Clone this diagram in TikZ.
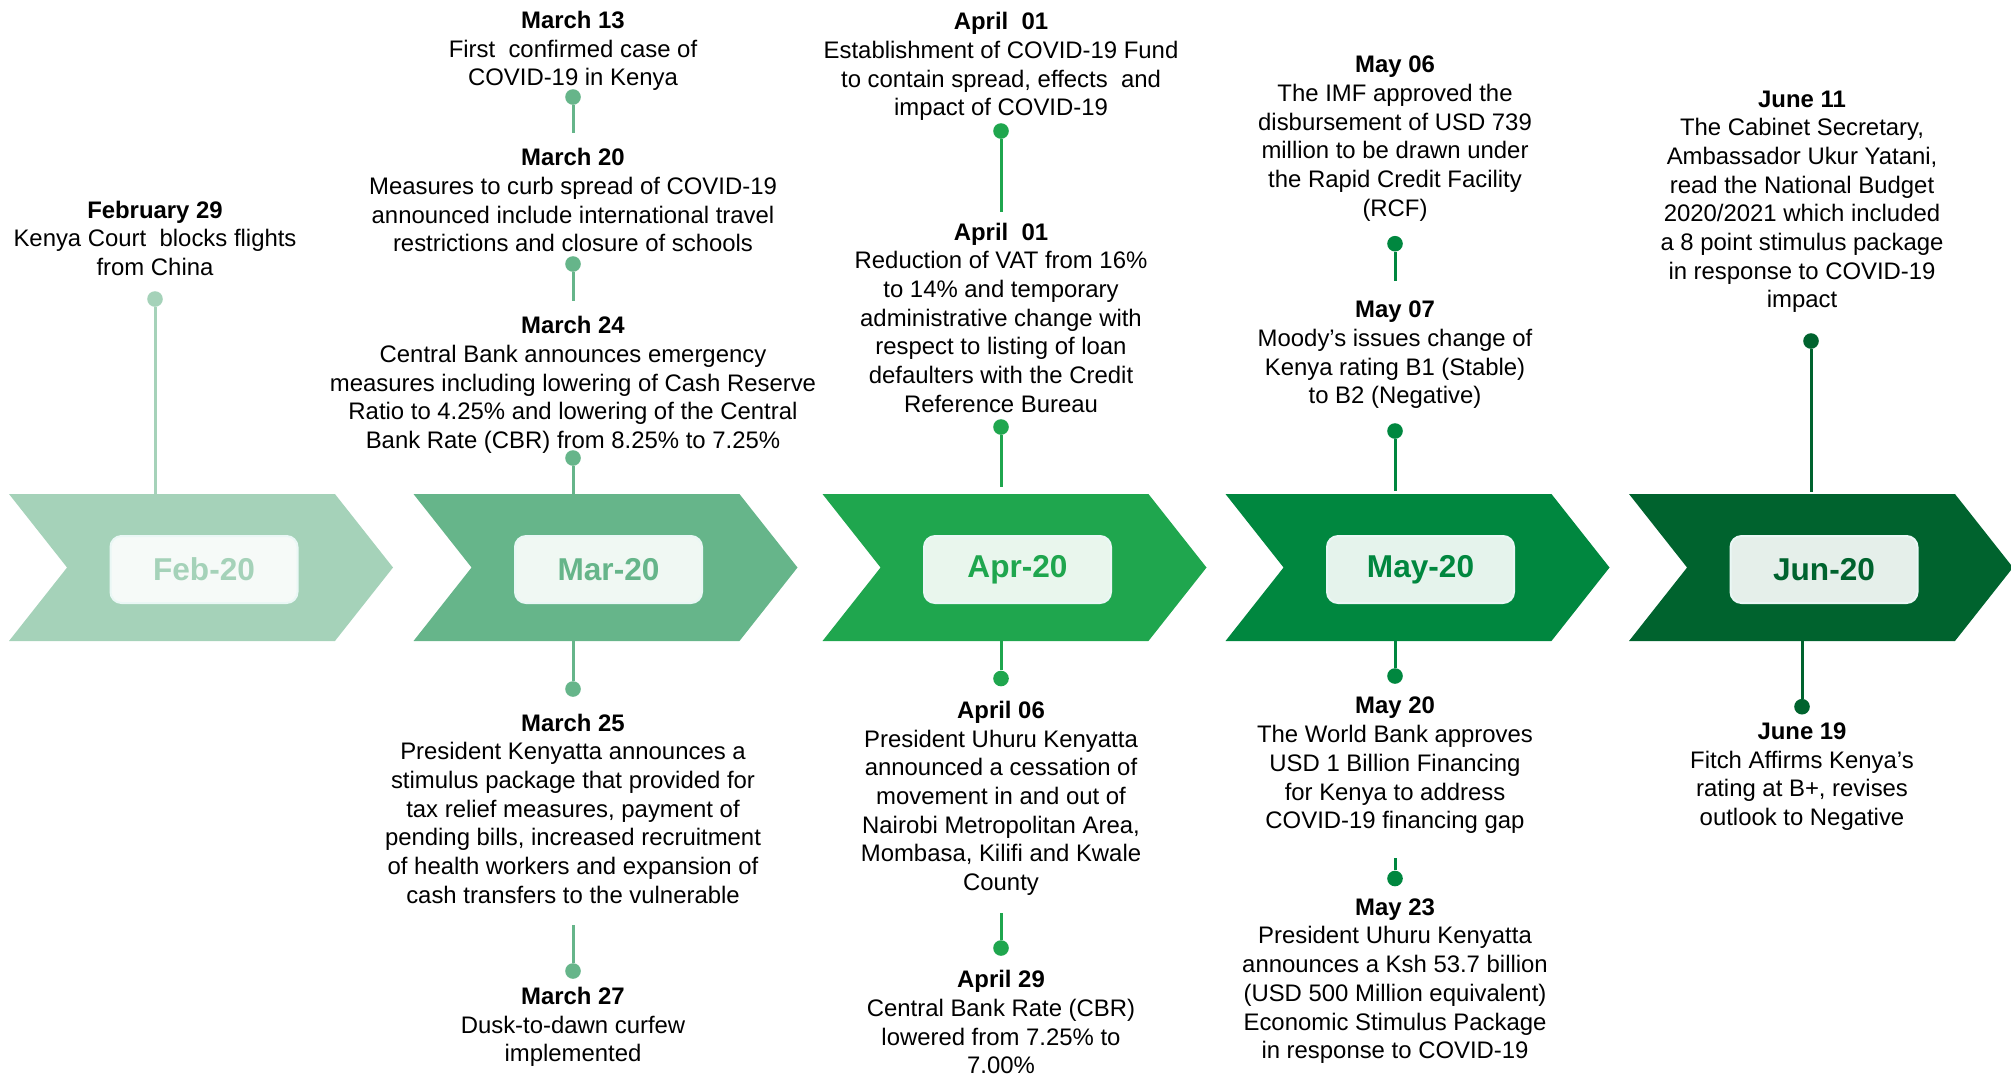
\documentclass[tikz,border=0pt]{standalone}
\usepackage{fontspec}
\setmainfont{Liberation Sans}
\usetikzlibrary{shapes.symbols}

\definecolor{febgreen}{RGB}{165,210,185}
\definecolor{margreen}{RGB}{102,181,138}
\definecolor{aprgreen}{RGB}{31,166,78}
\definecolor{maygreen}{RGB}{0,135,63}
\definecolor{jungreen}{RGB}{0,99,46}
\definecolor{boxedge}{RGB}{234,247,245}
\newcommand{\evfont}{\fontsize{11.95}{14.35}\selectfont}

\begin{document}
\begin{tikzpicture}[x=0.5pt, y=-0.5pt,
	month/.style={signal, signal from=west, signal to=east, signal pointer angle=103.4, minimum width=192pt, minimum height=73.5pt, inner sep=0pt, fill=#1},
	monthbox/.style={rounded corners=5.5pt, minimum width=93.5pt, minimum height=33.5pt, draw=boxedge, line width=1pt, fill=#1!10!white, text=#1, font=\bfseries\fontsize{15.8}{18}\selectfont},
	event/.style={align=center, anchor=north, inner sep=0pt, font=\evfont},
	dot/.style={circle, fill=#1, minimum size=7.8pt, inner sep=0pt},
	stem/.style={draw=#1, line width=1.5pt},
	node distance=202.25pt,
	]
	\useasboundingbox (0,0) rectangle (2011,1073);

	\node[month=febgreen] (feb) at (201,567.5) {};
	\node[month=margreen, right of=feb] (mar) {};
	\node[month=aprgreen, right of=mar, node distance=204.5pt] (apr) {};
	\node[month=maygreen, right of=apr, node distance=201.5pt] (may) {};
	\node[month=jungreen, right of=may, node distance=201.75pt] (jun) {};

	\node[monthbox=febgreen] (feblbl) at ([xshift=1.5pt, yshift=-1pt]feb.center) {Feb-20};
	\node[monthbox=margreen] (marlbl) at ([xshift=1.5pt, yshift=-1pt]mar.center) {Mar-20};
	\node[monthbox=aprgreen] (aprlbl) at ([xshift=1.5pt, yshift=-1pt]apr.center) {Apr-20};
	\node[monthbox=maygreen] (maylbl) at ([xshift=1.5pt, yshift=-1pt]may.center) {May-20};
	\node[monthbox=jungreen] (junlbl) at ([xshift=1.5pt, yshift=-1pt]jun.center) {Jun-20};

	\node[event] (f29) at (155,200.4) {\textbf{February 29}\\Kenya Court~ blocks flights\\from China};
	\node[dot=febgreen] (f29dot) at (155,299) {};
	\draw[stem=febgreen] (f29dot) -- (f29dot |- feb.north);

	\node[event] (m13) at (573,10.6) {\textbf{March 13}\\First~ confirmed case of\\COVID-19 in Kenya};
	\node[event] (m20) at (573,147.9) {\textbf{March 20}\\Measures to curb spread of COVID-19\\announced include international travel\\restrictions and closure of schools};
	\node[event] (m24) at (573,315.9) {\textbf{March 24}\\Central Bank announces emergency\\measures including lowering of Cash Reserve\\Ratio to 4.25\% and lowering of the Central\\Bank Rate (CBR) from 8.25\% to 7.25\%};
	\node[event] (m25) at (573,713.4) {\textbf{March 25}\\President Kenyatta announces a\\stimulus package that provided for\\tax relief measures, payment of\\pending bills, increased recruitment\\of health workers and expansion of\\cash transfers to the vulnerable};
	\node[event] (m27) at (573,986.6) {\textbf{March 27}\\Dusk-to-dawn curfew\\implemented};
	\node[dot=margreen] (m13dot) at (573,97) {};
	\node[dot=margreen] (m20dot) at (573,264) {};
	\node[dot=margreen] (m24dot) at (573,458) {};
	\node[dot=margreen] (m25dot) at (573,689) {};
	\node[dot=margreen] (m27dot) at (573,971) {};
	\draw[stem=margreen, shorten >=7.25pt] (m13dot) -- (m20.north);
	\draw[stem=margreen, shorten >=7.25pt] (m20dot) -- (m24.north);
	\draw[stem=margreen] (m24dot) -- (m24dot |- mar.north);
	\draw[stem=margreen] (m25dot) -- (m25dot |- mar.south);
	\draw[stem=margreen, shorten >=10.45pt] (m27dot) -- (m25.south);

	\node[event] (a01a) at (1001,11.9) {\textbf{April~ 01}\\Establishment of COVID-19 Fund\\to contain spread, effects~ and\\impact of COVID-19};
	\node[event] (a01b) at (1001,222.3) {\textbf{April~ 01}\\Reduction of VAT from 16\%\\to 14\% and temporary\\administrative change with\\respect to listing of loan\\defaulters with the Credit\\Reference Bureau};
	\node[event] (a06) at (1001,700.6) {\textbf{April 06}\\President Uhuru Kenyatta\\announced a cessation of\\movement in and out of\\Nairobi Metropolitan Area,\\Mombasa, Kilifi and Kwale\\County};
	\node[event] (a29) at (1001,969.9) {\textbf{April 29}\\Central Bank Rate (CBR)\\lowered from 7.25\% to\\7.00\%};
	\node[dot=aprgreen] (a01adot) at (1001,131) {};
	\node[dot=aprgreen] (a01bdot) at (1001,427) {};
	\node[dot=aprgreen] (a06dot) at (1001,678.5) {};
	\node[dot=aprgreen] (a29dot) at (1001,948) {};
	\draw[stem=aprgreen, shorten >=5.35pt] (a01adot) -- (a01b.north);
	\draw[stem=aprgreen, shorten >=3.5pt] (a01bdot) -- (a01bdot |- apr.north);
	\draw[stem=aprgreen] (a06dot) -- (a06dot |- apr.south);
	\draw[stem=aprgreen, shorten >=8.5pt] (a29dot) -- (a06.south);

	\node[event] (y06) at (1395,55.5) {\textbf{May 06}\\The IMF approved the\\disbursement of USD 739\\million to be drawn under\\the Rapid Credit Facility\\(RCF)};
	\node[event] (y07) at (1395,300.5) {\textbf{May 07}\\Moody’s issues change of\\Kenya rating B1 (Stable)\\to B2 (Negative)};
	\node[event] (y20) at (1395,696.8) {\textbf{May 20}\\The World Bank approves\\USD 1 Billion Financing\\for Kenya to address\\COVID-19 financing gap};
	\node[event] (y23) at (1395,898.1) {\textbf{May 23}\\President Uhuru Kenyatta\\announces a Ksh 53.7 billion\\(USD 500 Million equivalent)\\Economic Stimulus Package\\in response to COVID-19};
	\node[dot=maygreen] (y06dot) at (1395,243.7) {};
	\node[dot=maygreen] (y07dot) at (1395,431) {};
	\node[dot=maygreen] (y20dot) at (1395,676) {};
	\node[dot=maygreen] (y23dot) at (1395,878.5) {};
	\draw[stem=maygreen, shorten >=9.8pt] (y06dot) -- (y07.north);
	\draw[stem=maygreen, shorten >=1.5pt] (y07dot) -- (y07dot |- may.north);
	\draw[stem=maygreen] (y20dot) -- (y20dot |- may.south);
	\draw[stem=maygreen, shorten >=11.8pt] (y23dot) -- (y20.south);

	\node[event] (j11) at (1802,90.2) {\textbf{June 11}\\The Cabinet Secretary,\\Ambassador Ukur Yatani,\\read the National Budget\\2020/2021 which included\\a 8 point stimulus package\\in response to COVID-19\\impact};
	\node[event] (j19) at (1802,722.4) {\textbf{June 19}\\Fitch Affirms Kenya’s\\rating at B+, revises\\outlook to Negative};
	\node[dot=jungreen] (j11dot) at (1811,341) {};
	\node[dot=jungreen] (j19dot) at (1802,706.7) {};
	\draw[stem=jungreen, shorten >=1pt] (j11dot) -- (j11dot |- jun.north);
	\draw[stem=jungreen] (j19dot) -- (j19dot |- jun.south);

\end{tikzpicture}
\end{document}
